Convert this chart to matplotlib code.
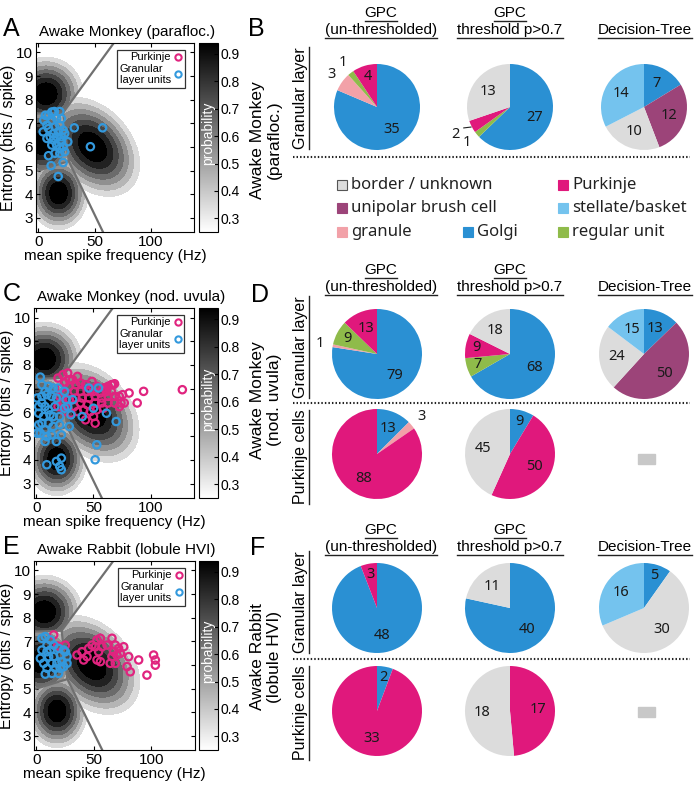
import numpy as np
import matplotlib
matplotlib.use('Agg')
import matplotlib.pyplot as plt
from matplotlib.path import Path
from matplotlib.colors import Normalize
from matplotlib.cm import ScalarMappable
from matplotlib.patches import Rectangle
from matplotlib.lines import Line2D

plt.rcParams['font.family'] = ['Liberation Sans', 'DejaVu Sans']

# ---------------- scatter data (Hz, bits/spike) ----------------
a_gran_x = [4.9, 4.3, 7.7, 9.1, 12, 14.3, 19.1, 9.1, 14.8, 13.4, 10.6, 16.3, 17.7, 19.1, 16.3, 20.5,
            22, 20.5, 16.3, 19.1, 23.4, 20.5, 26.2, 31.9, 57, 46.2, 9.1, 11.4, 22, 17.7, 12, 7.7,
            13.4, 23.4, 6.3, 19.1, 12, 22, 14.8]
a_gran_y = [7.13, 6.64, 6.36, 6.78, 7.13, 7.5, 7.5, 7.34, 6.85, 6.57, 6.43, 6.43, 6.64, 6.92, 7.2, 7.2,
            6.71, 6.43, 6.08, 5.94, 5.8, 6.22, 6.22, 6.81, 6.81, 6.01, 5.63, 5.21, 5.34, 4.75, 7.48, 6.92,
            6.29, 6.57, 7.34, 5.73, 6.08, 6.01, 5.73]

c_gran_x = [3.5, 4.9, 10.6, 19.0, 4.9, 9.2, 13.4, 4.9, 7.7, 10.6, 2.1, 6.3, 12.0, 16.2, 17.6, 20.5,
            4.9, 10.6, 14.8, 7.7, 3.5, 20.5, 13.4, 21.9, 7.7, 17.6, 28.9, 30.3, 31.8, 26.1, 24.7, 45.9,
            54.4, 40.2, 50.1, 61.4, 69.9, 52.9, 51.5, 9.2, 17.6, 21.9, 20.5, 21.9, 0.7, 2.1, 7.7, 14.8,
            24.7, 27.5, 9.2, 14.8, 2.1, 0.7]
c_gran_y = [7.49, 7.17, 7.10, 7.03, 6.68, 6.75, 6.68, 6.40, 6.25, 6.11, 5.97, 5.83, 5.90, 6.25, 6.61, 5.83,
            5.55, 5.55, 5.41, 5.27, 5.13, 5.48, 5.06, 5.06, 4.78, 4.78, 5.41, 5.90, 6.54, 6.54, 6.89, 7.03,
            7.03, 5.83, 6.18, 5.97, 5.62, 4.64, 4.01, 3.80, 3.94, 4.08, 3.73, 3.59, 5.13, 5.48, 6.89, 7.03,
            6.18, 6.25, 4.99, 5.83, 6.25, 6.61]
c_purk_x = [19.0, 23.3, 27.5, 31.8, 24.7, 28.9, 34.6, 38.8, 43.1, 48.7, 52.9, 58.6, 62.8, 67.1, 65.7, 61.4,
            55.8, 50.1, 44.5, 38.8, 33.2, 24.7, 20.5, 23.3, 28.9, 34.6, 40.2, 45.9, 51.5, 57.2, 62.8, 68.5,
            72.7, 75.5, 74.1, 68.5, 62.8, 57.2, 51.5, 44.5, 38.8, 33.2, 27.5, 30.3, 36.0, 41.6, 47.3, 52.9,
            58.6, 50.1, 51.5, 43.1, 24.7, 28.9, 36.0, 65.7, 68.5, 81.2, 88.3, 93.9, 127.8, 77.0, 72.7, 60.0,
            47.3, 19.0, 21.9]
c_purk_y = [7.45, 7.59, 7.66, 7.38, 7.24, 7.10, 7.17, 7.24, 7.17, 7.31, 7.10, 7.03, 7.10, 7.17, 6.89, 6.89,
            6.82, 6.89, 6.89, 6.89, 6.89, 6.82, 6.68, 6.40, 6.54, 6.61, 6.61, 6.61, 6.68, 6.61, 6.68, 6.68,
            6.68, 6.75, 6.40, 6.40, 6.40, 6.40, 6.40, 6.33, 6.40, 6.25, 6.18, 5.97, 6.04, 6.11, 6.04, 6.11,
            6.18, 5.83, 5.55, 5.69, 6.04, 7.38, 7.52, 7.17, 7.21, 6.82, 6.40, 6.89, 6.96, 6.40, 6.25, 7.03,
            6.96, 6.25, 7.03]

e_gran_x = [4.9, 7.8, 12.2, 9.3, 4.9, 12.2, 15.1, 19.4, 23.8, 20.9, 15.1, 10.7, 3.5, 6.4, 13.6, 18.0,
            22.3, 26.7, 26.7, 9.3, 16.5, 20.9, 13.6, 19.4, 7.8, 23.8, 25.2, 9.3]
e_gran_y = [7.13, 7.20, 7.06, 6.84, 6.63, 6.63, 6.84, 6.70, 6.63, 6.42, 6.35, 6.35, 6.28, 6.07, 6.07, 6.07,
            6.14, 6.35, 6.07, 5.86, 5.86, 5.86, 5.64, 5.64, 5.61, 5.93, 6.56, 6.56]
e_purk_x = [15.1, 18.6, 25.2, 35.4, 39.7, 44.1, 45.5, 48.4, 51.3, 52.8, 55.7, 57.1, 54.2, 52.8, 55.7, 61.5,
            65.8, 68.7, 67.2, 70.1, 65.8, 64.3, 68.7, 73.0, 76.0, 80.3, 78.9, 81.7, 89.0, 96.2, 102.0, 103.5,
            103.5, 41.2, 71.6]
e_purk_y = [7.27, 6.80, 6.84, 6.42, 6.56, 6.35, 6.70, 6.84, 6.77, 7.06, 7.13, 6.77, 6.56, 6.21, 6.14, 6.84,
            7.13, 6.84, 6.56, 6.42, 6.35, 6.07, 6.07, 6.49, 6.77, 6.35, 5.93, 5.71, 6.21, 5.57, 6.42, 6.21,
            5.99, 6.21, 6.70]

# GPC class model: centres / widths of the four probability blobs
blob_cx = [7, 4, 48, 18]
blob_cy = [8.25, 6.15, 6.0, 4.05]
blob_sx = [21, 20, 27, 17]
blob_sy = [1.0, 1.05, 1.35, 1.0]
blob_rho = [0.0, 0.0, -0.35, 0.0]
# decision boundary vertices
bnd_top = (70, 10.6)
bnd_j1 = (22, 7.45)
bnd_l1 = (-10, 7.4)
bnd_j2 = (27, 5.4)
bnd_l2 = (-10, 4.85)
bnd_bot = (61.4, 2.0)
regions = [
    [bnd_l1, bnd_j1, bnd_top, (-10, 10.6)],
    [bnd_l2, bnd_j2, bnd_j1, bnd_l1],
    [bnd_j1, bnd_top, (150, 10.6), (150, 2.0), bnd_bot, bnd_j2],
    [(-10, 2.0), bnd_bot, bnd_j2, bnd_l2],
]
boundary_lines = [(bnd_j1, bnd_top), (bnd_l1, bnd_j1), (bnd_j1, bnd_j2), (bnd_l2, bnd_j2), (bnd_j2, bnd_bot)]

# ---------------- pie data ----------------
cats = ['Golgi', 'unipolar brush cell', 'granule', 'regular unit', 'Purkinje', 'border / unknown', 'stellate/basket']
cat_colors = ['#2a90d3', '#9c4479', '#f2a1a8', '#8fbb4a', '#e0187c', '#dcdcdc', '#74c3ee']

b_gran = [[35, 0, 3, 1, 4, 0, 0], [27, 0, 0, 1, 2, 13, 0], [7, 12, 0, 0, 0, 10, 14]]
d_gran = [[79, 0, 1, 9, 13, 0, 0], [68, 0, 0, 7, 9, 18, 0], [13, 50, 0, 0, 0, 24, 15]]
d_purk = [[13, 0, 3, 0, 88, 0, 0], [9, 0, 0, 0, 50, 45, 0]]
f_gran = [[48, 0, 0, 0, 3, 0, 0], [40, 0, 0, 0, 0, 11, 0], [5, 0, 0, 0, 0, 30, 16]]
f_purk = [[2, 0, 0, 0, 33, 0, 0], [0, 0, 0, 0, 17, 18, 0]]

headers = [['GPC', '(un-thresholded)'], ['GPC', 'threshold p>0.7'], ['Decision-Tree']]
legend_order = ['border / unknown', 'Purkinje', 'unipolar brush cell', 'stellate/basket', 'granule', 'Golgi', 'regular unit']

W, H = 697, 788
fig = plt.figure(figsize=(W / 100, H / 100), dpi=100)


def px_axes(l, t, r, b):
    return fig.add_axes([l / W, 1 - b / H, (r - l) / W, (b - t) / H])


def fx(x):
    return x / W


def fy(y):
    return 1 - y / H


xg, yg = np.meshgrid(np.linspace(-2, 138, 420), np.linspace(2.4, 10.4, 300))
pts = np.column_stack([xg.ravel(), yg.ravel()])
Z = np.zeros_like(xg)
for i in range(4):
    u = (xg - blob_cx[i]) / blob_sx[i]
    v = (yg - blob_cy[i]) / blob_sy[i]
    r = blob_rho[i]
    d2 = (u ** 2 - 2 * r * u * v + v ** 2) / (1 - r ** 2)
    m = Path(regions[i]).contains_points(pts).reshape(xg.shape)
    Z += m * np.exp(-0.5 * d2)

norm = Normalize(0.25, 0.94)
levels = [0.3, 0.4, 0.5, 0.6, 0.7, 0.8, 0.9, 1.01]
blue = '#3399dd'
pink = '#e0247f'


def scatter_panel(box, letter, title, gx, gy, px=None, py=None):
    l, t, r, b = box
    ax = px_axes(l, t, r, b)
    ax.contourf(xg, yg, Z, levels=levels, cmap='gray_r', norm=norm)
    for p0, p1 in boundary_lines:
        ax.plot([p0[0], p1[0]], [p0[1], p1[1]], color='#707070', lw=1.6)
    if px is not None:
        ax.scatter(px, py, s=28, facecolors='none', edgecolors=pink, linewidths=1.6, zorder=3)
    ax.scatter(gx, gy, s=28, facecolors='none', edgecolors=blue, linewidths=1.6, zorder=4)
    hnd = [Line2D([], [], ls='none', marker='o', mfc='none', mec=pink, mew=1.5, ms=4.5),
           Line2D([], [], ls='none', marker='o', mfc='none', mec=blue, mew=1.5, ms=4.5)]
    leg = ax.legend(hnd, ['Purkinje', 'Granular\nlayer units'], loc='upper right',
                    bbox_to_anchor=(0.94, 0.965), borderaxespad=0, markerfirst=False,
                    fontsize=8, fancybox=False, framealpha=1, edgecolor='#333333',
                    handlelength=0.7, handletextpad=0.3, labelspacing=0.1, borderpad=0.25)
    leg.get_frame().set_linewidth(0.9)
    ax.set_xlim(-2, 138)
    ax.set_ylim(2.4, 10.4)
    ax.set_xticks([0, 50, 100])
    ax.set_yticks(range(3, 11))
    ax.tick_params(direction='in', top=True, right=True, length=3, labelsize=11, pad=2)
    ax.set_xlabel('mean spike frequency (Hz)', fontsize=11, labelpad=0)
    ax.set_ylabel('Entropy (bits / spike)', fontsize=11.5, labelpad=0)
    cax = px_axes(199, t, 218, b)
    cb = fig.colorbar(ScalarMappable(norm=norm, cmap='gray_r'), cax=cax)
    cb.set_ticks([0.3, 0.4, 0.5, 0.6, 0.7, 0.8, 0.9])
    cax.tick_params(direction='in', length=3, labelsize=10, pad=2)
    cax.text(0.5, 0.52, 'probability', rotation=90, color='white', ha='center', va='center',
             fontsize=10, transform=cax.transAxes)
    fig.text(fx(3), fy(t - 7), letter, fontsize=18, va='baseline')
    fig.text(fx(l + 3), fy(t - 7), title, fontsize=11, va='baseline')


scatter_panel((36, 43, 194, 232), 'A', 'Awake Monkey (parafloc.)', a_gran_x, a_gran_y)
scatter_panel((34, 308, 194, 498), 'C', 'Awake Monkey (nod. uvula)', c_gran_x, c_gran_y, c_purk_x, c_purk_y)
scatter_panel((34, 561, 195, 750), 'E', 'Awake Rabbit (lobule HVI)', e_gran_x, e_gran_y, e_purk_x, e_purk_y)


def pie_at(cx, cy, counts, rad=44, outside=(), leader=()):
    ax = px_axes(cx - 1.5 * rad, cy - 1.5 * rad, cx + 1.5 * rad, cy + 1.5 * rad)
    idx = [i for i, c in enumerate(counts) if c > 0]
    vals = [counts[i] for i in idx]
    cols = [cat_colors[i] for i in idx]
    wedges, _ = ax.pie(vals, colors=cols, startangle=90, counterclock=False, radius=1,
                       wedgeprops=dict(linewidth=0))
    total = float(sum(vals))
    for w, v, i in zip(wedges, vals, idx):
        ang = np.deg2rad((w.theta1 + w.theta2) / 2)
        if i in outside:
            d = 1.3
        elif v / total < 0.1:
            d = 0.75
        else:
            d = 0.62
        if i in leader:
            ax.plot([1.02 * np.cos(ang), 1.18 * np.cos(ang - 0.05)],
                    [1.02 * np.sin(ang), 1.18 * np.sin(ang - 0.05)], color='#222222', lw=0.8)
            d = 1.42
        ax.text(d * np.cos(ang), d * np.sin(ang), str(v), ha='center', va='center',
                fontsize=10.5, family='Noto Sans', color='#1a1a1a')
    ax.set_xlim(-1.5, 1.5)
    ax.set_ylim(-1.5, 1.5)
    ax.set_aspect('equal')
    ax.axis('off')


col_x = [377, 510, 644]
hdr_x = [381, 510, 645]
underline_h = []
underline_v = []


def header_row(y1, y2):
    for hx, lines in zip(hdr_x, headers):
        ys = [y1, y2] if len(lines) == 2 else [y2]
        for s, yy in zip(lines, ys):
            underline_h.append(fig.text(fx(hx), fy(yy), s, fontsize=11, ha='center', va='center'))


def row_label(y, s):
    underline_v.append(fig.text(fx(300), fy(y), s, fontsize=11.5, rotation=90, ha='center', va='center'))


def side_label(y, s):
    fig.text(fx(266), fy(y), s, fontsize=12.5, rotation=90, ha='center', va='center', linespacing=1.1)


def dotted(y):
    fig.add_artist(Line2D([fx(293), fx(690)], [fy(y), fy(y)], color='#222222', lw=1.5,
                          linestyle=(0, (0.7, 1.0))))


def blank_cell(y):
    fig.add_artist(Rectangle((fx(638), fy(y + 5)), 17 / W, 10 / H, color='#c8c8c8',
                             transform=fig.transFigure))


# panel B
fig.text(fx(248), fy(36), 'B', fontsize=18, va='baseline')
header_row(13, 30)
pie_at(col_x[0], 107, b_gran[0], 43, outside=(2, 3))
pie_at(col_x[1], 107, b_gran[1], 43, outside=(3,), leader=(4,))
pie_at(col_x[2], 107, b_gran[2], 43)
row_label(98, 'Granular layer')
side_label(140, 'Awake Monkey\n(parafloc.)')
dotted(157)

leg_pos = [(337, 185), (558, 185), (337, 208), (558, 208), (337, 232), (463, 232), (558, 232)]
for name, (lx, ly) in zip(legend_order, leg_pos):
    col = cat_colors[cats.index(name)]
    ec = '#555555' if name == 'border / unknown' else col
    fig.add_artist(Rectangle((fx(lx), fy(ly + 5)), 10 / W, 10 / H, facecolor=col, edgecolor=ec,
                             lw=0.8, transform=fig.transFigure))
    fig.text(fx(lx + 14), fy(ly), name, fontsize=12, family='Noto Sans', va='center', color='#222222')

# panel D
fig.text(fx(251), fy(302), 'D', fontsize=18, va='baseline')
header_row(270, 287)
pie_at(col_x[0], 354, d_gran[0], 45, outside=(2,))
pie_at(col_x[1], 354, d_gran[1], 45)
pie_at(col_x[2], 354, d_gran[2], 45)
pie_at(col_x[0], 454, d_purk[0], 45, outside=(2,))
pie_at(col_x[1], 454, d_purk[1], 45)
blank_cell(459)
row_label(347, 'Granular layer')
row_label(457, 'Purkinje cells')
side_label(400, 'Awake Monkey\n(nod. uvula)')
dotted(403)

# panel F
fig.text(fx(250), fy(555), 'F', fontsize=18, va='baseline')
header_row(530, 547)
for x, c in zip(col_x, f_gran):
    pie_at(x, 608, c, 45)
for x, c in zip(col_x[:2], f_purk):
    pie_at(x, 711, c, 45)
blank_cell(712)
row_label(602, 'Granular layer')
row_label(713, 'Purkinje cells')
side_label(657, 'Awake Rabbit\n(lobule HVI)')
dotted(659)

# underlines
fig.canvas.draw()
rend = fig.canvas.get_renderer()
inv = fig.transFigure.inverted()
for t in underline_h:
    bb = t.get_window_extent(rend).transformed(inv)
    fig.add_artist(Line2D([bb.x0, bb.x1], [bb.y0 - 0.5 / H, bb.y0 - 0.5 / H], color='#222222', lw=1))
for t in underline_v:
    bb = t.get_window_extent(rend).transformed(inv)
    fig.add_artist(Line2D([bb.x1 + 1 / W, bb.x1 + 1 / W], [bb.y0, bb.y1], color='#222222', lw=1))

fig.savefig('out.png', dpi=100)
